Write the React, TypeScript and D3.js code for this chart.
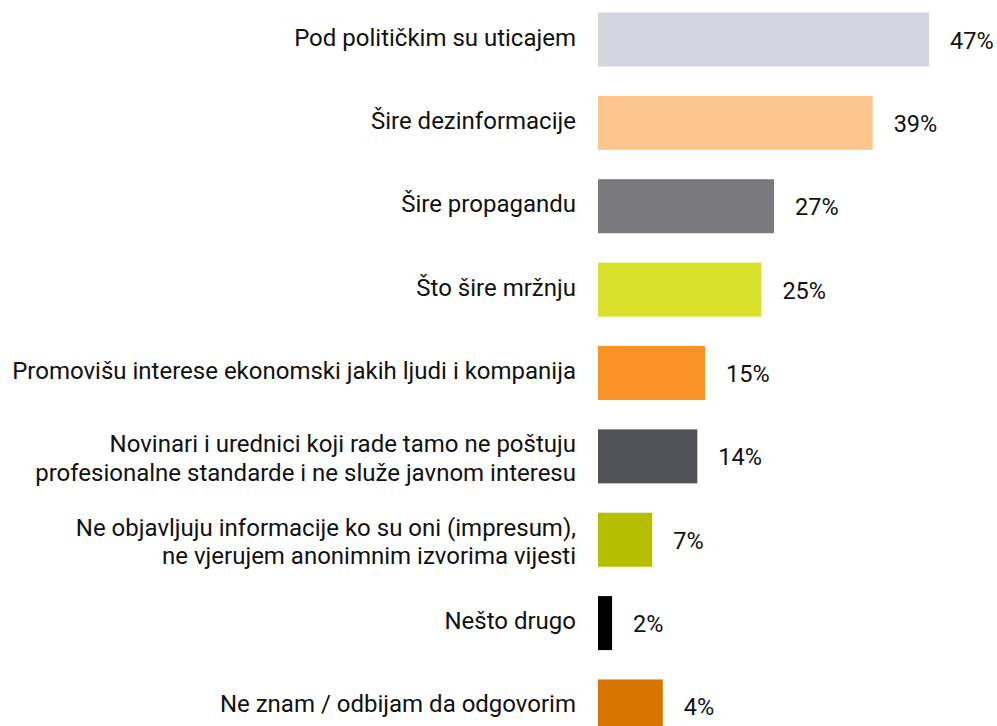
import React from "react";
import * as d3 from "d3";

// Category labels (one entry per line)
const categories: string[][] = [
  ["Pod političkim su uticajem"],
  ["Šire dezinformacije"],
  ["Šire propagandu"],
  ["Što šire mržnju"],
  ["Promovišu interese ekonomski jakih ljudi i kompanija"],
  ["Novinari i urednici koji rade tamo ne poštuju", "profesionalne standarde i ne služe javnom interesu"],
  ["Ne objavljuju informacije ko su oni (impresum),", "ne vjerujem anonimnim izvorima vijesti"],
  ["Nešto drugo"],
  ["Ne znam / odbijam da odgovorim"],
];

// Printed percentages
const valueLabels: number[] = [47, 39, 27, 25, 15, 14, 7, 2, 4];

// Bar lengths as drawn in the picture (percentage units)
const barLengths: number[] = [47, 39, 25, 23.2, 15.2, 14.1, 7.7, 2, 9.2];

const colors: string[] = [
  "#d3d6de",
  "#fdc68f",
  "#7a7a7e",
  "#d9e02c",
  "#f99325",
  "#525358",
  "#b5bf00",
  "#000000",
  "#d87500",
];

const W = 997;
const H = 726;
const BAR_LEFT = 598;
const BAR_RIGHT_MAX = 929;
const LABEL_RIGHT = 576;
const TOP = 12.5;
const STEP = 83.37;
const BAR_H = 54;
const FONT = "Roboto, 'Noto Sans', sans-serif";
const FS_LABEL = 24;
const FS_VALUE = 23.5;
const LINE_GAP = 28.3;

export default function App() {
  const idx = categories.map((_, i) => String(i));
  const x = d3.scaleLinear().domain([0, 47]).range([BAR_LEFT, BAR_RIGHT_MAX]);
  const y = d3
    .scaleBand<string>()
    .domain(idx)
    .range([TOP, TOP + STEP * (idx.length - 1) + BAR_H])
    .paddingInner((STEP - BAR_H) / STEP)
    .paddingOuter(0);
  const bw = y.bandwidth();

  return (
    <svg
      width={W}
      height={H}
      viewBox={`0 0 ${W} ${H}`}
      style={{ position: "absolute", left: 0, top: 0, background: "#fff" }}
      fontFamily={FONT}
    >
      {idx.map((k, i) => {
        const y0 = y(k)!;
        const cy = y0 + bw / 2;
        const lines = categories[i];
        const n = lines.length;
        return (
          <g key={k}>
            <rect x={x(0)} y={y0} width={x(barLengths[i]) - x(0)} height={bw} fill={colors[i]} />
            <text x={LABEL_RIGHT} textAnchor="end" fontSize={FS_LABEL} fill="#111">
              {lines.map((ln, j) => (
                <tspan
                  key={j}
                  x={LABEL_RIGHT}
                  y={cy + 6 + (j - (n - 1) / 2) * LINE_GAP + (n - 1) * 4}
                >
                  {ln}
                </tspan>
              ))}
            </text>
            <text x={x(barLengths[i]) + 21} y={cy + 9} fontSize={FS_VALUE} fill="#111">
              {`${valueLabels[i]}%`}
            </text>
          </g>
        );
      })}
    </svg>
  );
}
